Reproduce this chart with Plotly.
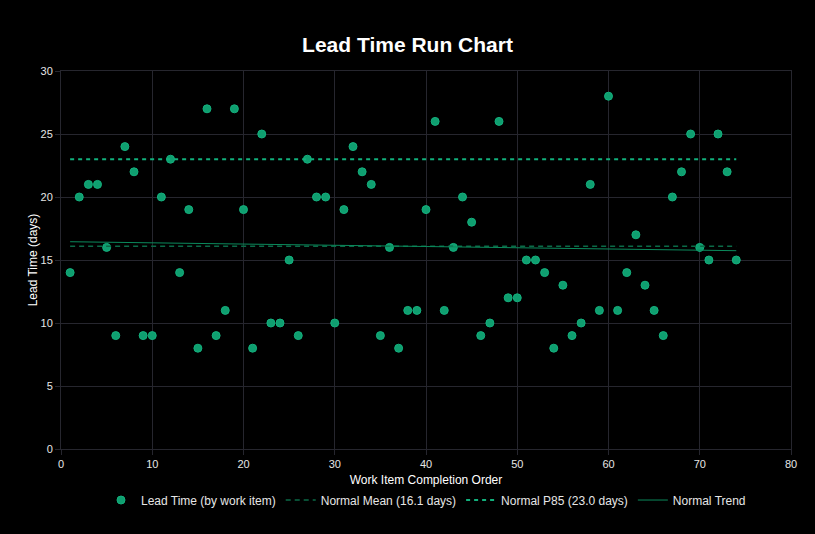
import numpy as np
import plotly.graph_objects as go

# Data
order = list(range(1, 75))
lead_time = [14, 20, 21, 21, 16, 9, 24, 22, 9, 9,
             20, 23, 14, 19, 8, 27, 9, 11, 27, 19,
             8, 25, 10, 10, 15, 9, 23, 20, 20, 10,
             19, 24, 22, 21, 9, 16, 8, 11, 11, 19,
             26, 11, 16, 20, 18, 9, 10, 26, 12, 12,
             15, 15, 14, 8, 13, 9, 10, 21, 11, 28,
             11, 14, 17, 13, 11, 9, 20, 22, 25, 16,
             15, 25, 22, 15]

x_ticks = [0, 10, 20, 30, 40, 50, 60, 70, 80]
y_ticks = [0, 5, 10, 15, 20, 25, 30]

arr = np.array(lead_time, dtype=float)
xs = np.array(order, dtype=float)
mean_val = float(arr.mean())
p85_val = float(np.percentile(arr, 85))
slope, intercept = np.polyfit(xs, arr, 1)
line_x = [order[0], order[-1]]
trend_y = [slope * v + intercept for v in line_x]

POINT = "#0f9f70"
GRID = "#26262e"
FONT = "Liberation Sans, Arial, Helvetica, sans-serif"

fig = go.Figure()
fig.add_trace(go.Scatter(
    x=order, y=lead_time, mode="markers", name="Lead Time (by work item)",
    marker=dict(color=POINT, size=8, symbol="circle",
                line=dict(color="#14b07d", width=1)),
))
fig.add_trace(go.Scatter(
    x=line_x, y=[mean_val, mean_val], mode="lines",
    name=f"Normal Mean ({mean_val:.1f} days)",
    line=dict(color="#0b6a47", width=1.5, dash="5px,4px"),
))
fig.add_trace(go.Scatter(
    x=line_x, y=[p85_val, p85_val], mode="lines",
    name=f"Normal P85 ({p85_val:.1f} days)",
    line=dict(color="#12b07c", width=2, dash="4px,4px"),
))
fig.add_trace(go.Scatter(
    x=line_x, y=trend_y, mode="lines", name="Normal Trend",
    line=dict(color="#0b8a5c", width=1),
))

fig.update_layout(
    width=815, height=534,
    paper_bgcolor="#000000", plot_bgcolor="#000000",
    margin=dict(l=61, r=24, t=71, b=85),
    font=dict(family=FONT, color="#e6e6e6", size=11),
    title=dict(text="<b>Lead Time Run Chart</b>", x=0.5, xanchor="center",
               y=1 - 45 / 534, yanchor="middle",
               font=dict(size=21, color="#ffffff", family=FONT)),
    showlegend=True,
    legend=dict(orientation="h", x=0.5, xanchor="center",
                y=-0.135, yanchor="middle",
                font=dict(size=12, color="#e6e6e6", family=FONT),
                bgcolor="rgba(0,0,0,0)"),
)
fig.update_xaxes(
    range=[0, 80], tickvals=x_ticks, showgrid=True, gridcolor=GRID, gridwidth=1,
    zeroline=False, showline=True, linecolor=GRID, mirror=True,
    ticks="outside", ticklen=5, tickcolor=GRID,
    tickfont=dict(size=11, color="#e6e6e6"),
    title=dict(text="Work Item Completion Order", font=dict(size=12, color="#ffffff"),
               standoff=6),
)
fig.update_yaxes(
    range=[0, 30], tickvals=y_ticks, showgrid=True, gridcolor=GRID, gridwidth=1,
    zeroline=False, showline=True, linecolor=GRID, mirror=True,
    ticks="outside", ticklen=5, tickcolor=GRID,
    tickfont=dict(size=11, color="#e6e6e6"),
    title=dict(text="Lead Time (days)", font=dict(size=12, color="#ffffff"),
               standoff=0),
)

fig.write_html(
    "out.html",
    config={"displayModeBar": False},
    post_script="document.body.style.margin='0';document.body.style.background='#000';",
)
